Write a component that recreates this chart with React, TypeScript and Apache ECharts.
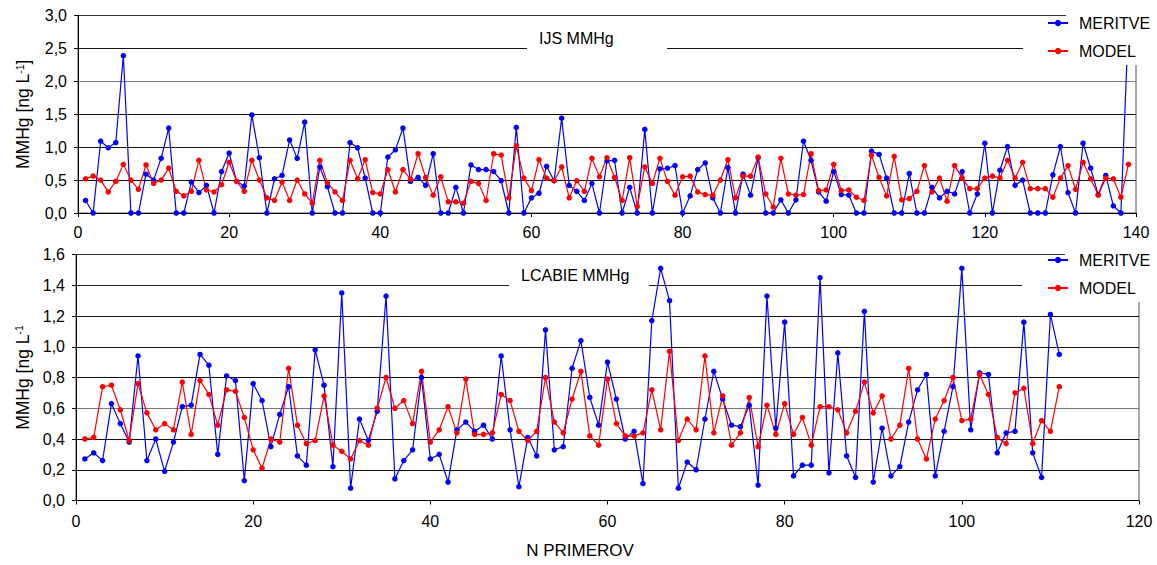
import React, { useEffect, useRef } from "react";
import * as echarts from "echarts";

const ijsMeritve = [
  0.19, 0, 1.09, 0.99, 1.07, 2.39, 0, 0, 0.59, 0.5,
  0.83, 1.29, 0, 0, 0.47, 0.31, 0.42, 0, 0.63, 0.91,
  0.48, 0.41, 1.49, 0.84, 0, 0.52, 0.57, 1.11, 0.83, 1.38,
  0, 0.7, 0.4, 0, 0, 1.07, 0.99, 0.53, 0, 0,
  0.85, 0.96, 1.29, 0.48, 0.54, 0.42, 0.9, 0, 0, 0.39,
  0, 0.73, 0.66, 0.66, 0.63, 0.49, 0, 1.3, 0, 0.23,
  0.3, 0.71, 0.49, 1.44, 0.42, 0.33, 0.19, 0.45, 0, 0.79,
  0.8, 0, 0.39, 0, 1.27, 0, 0.67, 0.68, 0.72, 0,
  0.26, 0.66, 0.76, 0.23, 0, 0.69, 0, 0.59, 0.27, 0.84,
  0, 0, 0.2, 0, 0.2, 1.09, 0.8, 0.32, 0.18, 0.63,
  0.28, 0.27, 0, 0, 0.94, 0.89, 0.53, 0, 0, 0.6,
  0, 0, 0.39, 0.23, 0.33, 0.29, 0.63, 0, 0.29, 1.06,
  0, 0.65, 1.01, 0.42, 0.5, 0, 0, 0, 0.58, 1.01,
  0.31, 0, 1.06, 0.68, 0.28, 0.57, 0.11, 0, 2.9,
];

const ijsModel = [
  0.52, 0.56, 0.5, 0.32, 0.48, 0.74, 0.5, 0.36, 0.73, 0.45,
  0.5, 0.68, 0.33, 0.26, 0.33, 0.8, 0.35, 0.32, 0.43, 0.77,
  0.48, 0.33, 0.8, 0.5, 0.23, 0.19, 0.47, 0.19, 0.5, 0.29,
  0.15, 0.8, 0.46, 0.32, 0.19, 0.8, 0.52, 0.81, 0.31, 0.29,
  0.66, 0.32, 0.66, 0.51, 0.9, 0.54, 0.27, 0.55, 0.17, 0.17,
  0.15, 0.48, 0.45, 0.19, 0.9, 0.88, 0.23, 1.02, 0.53, 0.34,
  0.81, 0.53, 0.49, 0.7, 0.23, 0.49, 0.33, 0.83, 0.55, 0.84,
  0.54, 0.19, 0.84, 0.1, 0.7, 0.45, 0.83, 0.48, 0.27, 0.55,
  0.56, 0.32, 0.28, 0.27, 0.5, 0.81, 0.23, 0.56, 0.56, 0.85,
  0.29, 0.09, 0.83, 0.29, 0.27, 0.28, 0.9, 0.34, 0.35, 0.74,
  0.34, 0.35, 0.24, 0.19, 0.88, 0.54, 0.26, 0.86, 0.2, 0.22,
  0.33, 0.72, 0.32, 0.53, 0.18, 0.72, 0.53, 0.37, 0.37, 0.53,
  0.56, 0.53, 0.8, 0.53, 0.77, 0.37, 0.37, 0.37, 0.24, 0.53,
  0.72, 0.36, 0.77, 0.52, 0.27, 0.53, 0.52, 0.24, 0.74,
];

const lcabieMeritve = [
  0.27, 0.31, 0.26, 0.63, 0.5, 0.38, 0.94, 0.26, 0.4, 0.19,
  0.38, 0.61, 0.62, 0.95, 0.88, 0.3, 0.81, 0.78, 0.13, 0.76,
  0.65, 0.35, 0.56, 0.74, 0.29, 0.23, 0.98, 0.75, 0.22, 1.35,
  0.08, 0.53, 0.39, 0.58, 1.33, 0.14, 0.26, 0.33, 0.8, 0.27,
  0.3, 0.12, 0.46, 0.51, 0.45, 0.49, 0.4, 0.94, 0.46, 0.09,
  0.41, 0.29, 1.11, 0.33, 0.35, 0.86, 1.04, 0.67, 0.49, 0.9,
  0.66, 0.4, 0.45, 0.11, 1.17, 1.51, 1.3, 0.08, 0.25, 0.2,
  0.53, 0.84, 0.66, 0.49, 0.48, 0.62, 0.1, 1.33, 0.47, 1.16,
  0.16, 0.23, 0.23, 1.45, 0.18, 0.96, 0.29, 0.15, 1.23, 0.12,
  0.47, 0.16, 0.22, 0.51, 0.72, 0.82, 0.16, 0.45, 0.74, 1.51,
  0.46, 0.83, 0.82, 0.31, 0.44, 0.45, 1.16, 0.31, 0.15, 1.21, 0.95,
];

const lcabieModel = [
  0.4, 0.41, 0.74, 0.75, 0.59, 0.39, 0.76, 0.57, 0.46, 0.5,
  0.46, 0.77, 0.43, 0.78, 0.69, 0.49, 0.72, 0.71, 0.54, 0.33,
  0.21, 0.4, 0.38, 0.86, 0.49, 0.37, 0.39, 0.68, 0.36, 0.32,
  0.27, 0.39, 0.36, 0.6, 0.8, 0.6, 0.65, 0.5, 0.84, 0.38,
  0.46, 0.61, 0.44, 0.79, 0.43, 0.43, 0.44, 0.69, 0.65, 0.45,
  0.39, 0.45, 0.8, 0.51, 0.44, 0.66, 0.84, 0.42, 0.36, 0.79,
  0.5, 0.42, 0.42, 0.44, 0.72, 0.46, 0.97, 0.39, 0.53, 0.46,
  0.94, 0.44, 0.68, 0.36, 0.44, 0.67, 0.35, 0.62, 0.43, 0.63,
  0.43, 0.54, 0.36, 0.61, 0.61, 0.59, 0.44, 0.58, 0.77, 0.57,
  0.68, 0.4, 0.49, 0.86, 0.4, 0.27, 0.53, 0.65, 0.8, 0.52,
  0.53, 0.82, 0.69, 0.41, 0.37, 0.7, 0.73, 0.37, 0.52, 0.45, 0.74,
];

const seriesNames = ["MERITVE", "MODEL"];
const panelTitles = ["IJS MMHg", "LCABIE MMHg"];
const xAxisTitle = "N PRIMEROV";

const FONT = '"Liberation Sans", Arial, Helvetica, sans-serif';
const BLUE = "#0000ff";
const RED = "#ff0000";

const toPairs = (arr: number[]) => arr.map((v, i) => [i + 1, v]);
const fmt = (v: number) => v.toFixed(1).replace(".", ",");

export default function App() {
  const ref = useRef<HTMLDivElement>(null);

  useEffect(() => {
    if (!ref.current) return;
    const chart = echarts.init(ref.current, null, { renderer: "svg" });

    const xAxisCommon = {
      type: "value",
      axisLine: { show: true, lineStyle: { color: "#000", width: 1 } },
      axisTick: { show: true, length: 4, lineStyle: { color: "#000" } },
      axisLabel: { fontSize: 16, color: "#000", fontFamily: FONT },
      splitLine: { show: false },
    };
    const yAxisCommon = {
      type: "value",
      axisLine: { show: true, lineStyle: { color: "#000", width: 1 } },
      axisTick: { show: true, length: 4, inside: false, lineStyle: { color: "#000" } },
      axisLabel: { fontSize: 16, color: "#000", fontFamily: FONT, margin: 11, formatter: (v: number) => fmt(v) },
      nameLocation: "middle",
      nameRotate: 90,
      nameTextStyle: {
        fontSize: 17.5,
        color: "#000",
        fontFamily: FONT,
        rich: {
          sup: { fontSize: 10.5, color: "#000", fontFamily: FONT, verticalAlign: "top", padding: [0, 0, 7, 0] },
        },
      },
    };

    const lineSeries = (name: string, color: string, data: number[], idx: number) => ({
      name,
      type: "line",
      xAxisIndex: idx,
      yAxisIndex: idx,
      data: toPairs(data),
      symbol: "circle",
      symbolSize: 5.5,
      showSymbol: true,
      itemStyle: { color },
      lineStyle: { color, width: 1.2 },
      emphasis: { disabled: true },
      z: 2,
    });

    const legendCommon = {
      data: seriesNames,
      orient: "vertical",
      left: 1042,
      itemWidth: 20,
      itemHeight: 8,
      itemGap: 12,
      selectedMode: false,
      textStyle: { fontSize: 16, color: "#000", fontFamily: FONT, padding: [0, 0, 0, 6] },
      z: 6,
    };

    const option = {
      animation: false,
      textStyle: { fontFamily: FONT },
      grid: [
        { left: 78, top: 15.5, width: 1058, height: 197.5, show: true, borderColor: "#555", borderWidth: 1, containLabel: false },
        { left: 76, top: 254.5, width: 1063, height: 246, show: true, borderColor: "#555", borderWidth: 1, containLabel: false },
      ],
      xAxis: [
        { ...xAxisCommon, gridIndex: 0, min: 0, max: 140, interval: 20, axisLabel: { ...xAxisCommon.axisLabel, margin: 11 } },
        { ...xAxisCommon, gridIndex: 1, min: 0, max: 120, interval: 20, axisLabel: { ...xAxisCommon.axisLabel, margin: 13 } },
      ],
      yAxis: [
        {
          ...yAxisCommon,
          gridIndex: 0,
          min: 0,
          max: 3,
          interval: 0.5,
          name: "MMHg [ng L{sup|-1}]",
          nameGap: 46,
          splitLine: { show: true, lineStyle: { color: ["#000", "#111", "#111", "#111", "#777", "#111", "#333"], width: 1 } },
        },
        {
          ...yAxisCommon,
          gridIndex: 1,
          min: 0,
          max: 1.6,
          interval: 0.2,
          name: "MMHg [ng L{sup|-1}",
          nameGap: 44,
          splitLine: { show: true, lineStyle: { color: ["#000", "#111", "#111", "#777", "#111", "#111", "#111", "#222", "#333"], width: 1 } },
        },
      ],
      legend: [
        { ...legendCommon, top: 10 },
        { ...legendCommon, top: 247 },
      ],
      series: [
        lineSeries(seriesNames[0], BLUE, ijsMeritve, 0),
        lineSeries(seriesNames[1], RED, ijsModel, 0),
        lineSeries(seriesNames[0], BLUE, lcabieMeritve, 1),
        lineSeries(seriesNames[1], RED, lcabieModel, 1),
      ],
      graphic: [
        // legend backgrounds (top panel)
        { type: "rect", z: 3, shape: { x: 1066, y: 8, width: 100, height: 57 }, style: { fill: "#fff" } },
        { type: "rect", z: 3, shape: { x: 1023, y: 18, width: 140, height: 47 }, style: { fill: "#fff" } },
        // legend backgrounds (bottom panel)
        { type: "rect", z: 3, shape: { x: 1065, y: 248, width: 100, height: 54 }, style: { fill: "#fff" } },
        { type: "rect", z: 3, shape: { x: 1022, y: 262, width: 140, height: 40 }, style: { fill: "#fff" } },
        // panel titles
        { type: "rect", z: 3, shape: { x: 527, y: 26, width: 140, height: 26 }, style: { fill: "#fff" } },
        { type: "text", z: 5, x: 539, y: 38, style: { text: panelTitles[0], fontSize: 16, fill: "#000", fontFamily: FONT, verticalAlign: "middle", align: "left" } },
        { type: "rect", z: 3, shape: { x: 509, y: 263, width: 140, height: 26 }, style: { fill: "#fff" } },
        { type: "text", z: 5, x: 521, y: 275, style: { text: panelTitles[1], fontSize: 16, fill: "#000", fontFamily: FONT, verticalAlign: "middle", align: "left" } },
        // x axis title
        { type: "text", z: 5, x: 580, y: 550, style: { text: xAxisTitle, fontSize: 17, fill: "#000", fontFamily: FONT, verticalAlign: "middle", align: "center" } },
      ],
    };

    chart.setOption(option as any);
    return () => chart.dispose();
  }, []);

  return (
    <div
      ref={ref}
      style={{ position: "absolute", left: 0, top: 0, width: 1157, height: 565, background: "#fff" }}
    />
  );
}
